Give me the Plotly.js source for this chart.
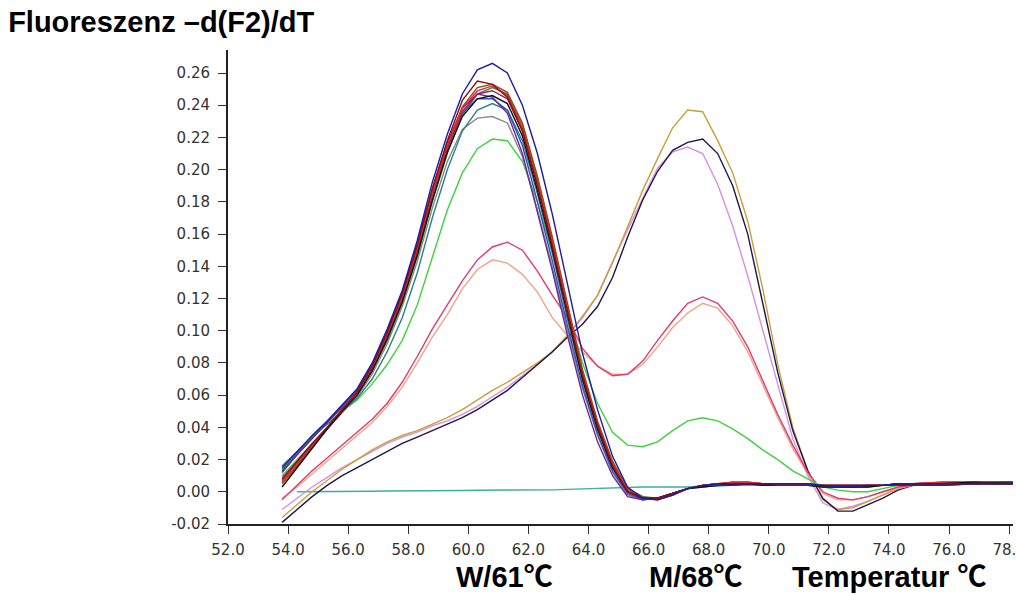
<!DOCTYPE html>
<html>
<head>
<meta charset="utf-8">
<script src="https://cdn.plot.ly/plotly-3.0.1.min.js"></script>
<style>
html,body{margin:0;padding:0;background:#fff;}
#chart{width:1016px;height:594px;}
</style>
</head>
<body>
<div id="chart"></div>
<script>
// Temperature grid (°C)
const temps = [53.8,54.3,54.8,55.3,55.8,56.3,56.8,57.3,57.8,58.3,58.8,59.3,59.8,60.3,60.8,61.3,61.8,62.3,62.8,63.3,63.8,64.3,64.8,65.3,65.8,66.3,66.8,67.3,
               67.8,68.3,68.8,69.3,69.8,70.3,70.8,71.3,71.8,72.3,72.8,73.3,73.8,74.3,74.8,75.8,76.8,77.8,78.3];

// Wild-type samples (peak ~61 °C)
const wtNavy    = [0.015,0.025,0.035,0.044,0.054,0.064,0.080,0.101,0.125,0.156,0.192,0.222,0.247,0.262,0.266,0.260,0.240,0.210,0.172,0.128,0.086,0.051,0.022,0.003,-0.004,-0.005,-0.002,0.002,
                   0.004,0.005,0.005,0.005,0.005,0.005,0.005,0.005,0.004,0.003,0.003,0.004,0.004,0.005,0.005,0.005,0.005,0.005,0.005];
const wtDarkRed = [0.008,0.019,0.030,0.040,0.051,0.062,0.078,0.099,0.123,0.153,0.188,0.218,0.243,0.255,0.253,0.245,0.224,0.190,0.152,0.111,0.072,0.041,0.016,0.000,-0.004,-0.004,-0.001,0.002,
                   0.004,0.004,0.004,0.005,0.005,0.004,0.004,0.004,0.004,0.004,0.004,0.004,0.004,0.004,0.004,0.004,0.005,0.005,0.005];
const wtBlack   = [0.003,0.015,0.027,0.039,0.050,0.060,0.075,0.095,0.118,0.147,0.181,0.211,0.233,0.244,0.246,0.241,0.221,0.187,0.150,0.109,0.070,0.039,0.015,0.000,-0.004,-0.004,-0.001,0.002,
                   0.003,0.004,0.005,0.005,0.004,0.004,0.004,0.004,0.003,0.003,0.003,0.003,0.004,0.005,0.005,0.005,0.006,0.006,0.006];
const wtRed     = [0.006,0.017,0.028,0.039,0.050,0.061,0.077,0.097,0.121,0.150,0.185,0.215,0.238,0.249,0.252,0.246,0.226,0.192,0.155,0.113,0.073,0.042,0.017,0.001,-0.004,-0.005,-0.002,0.002,
                   0.004,0.005,0.006,0.006,0.005,0.005,0.005,0.004,0.004,0.004,0.004,0.004,0.004,0.004,0.005,0.006,0.006,0.005,0.005];
const wtPurple  = [0.012,0.023,0.033,0.043,0.053,0.063,0.079,0.100,0.124,0.154,0.188,0.217,0.238,0.247,0.245,0.235,0.210,0.174,0.137,0.097,0.060,0.031,0.010,-0.003,-0.005,-0.004,-0.001,0.002,
                   0.004,0.005,0.005,0.005,0.005,0.005,0.005,0.005,0.004,0.003,0.003,0.004,0.004,0.005,0.005,0.005,0.005,0.005,0.005];
const wtGreen   = [0.014,0.024,0.034,0.043,0.052,0.061,0.075,0.094,0.117,0.146,0.180,0.210,0.234,0.247,0.251,0.247,0.228,0.194,0.156,0.114,0.074,0.043,0.018,0.002,-0.003,-0.004,-0.001,0.002,
                   0.004,0.004,0.004,0.005,0.005,0.004,0.004,0.004,0.004,0.004,0.004,0.004,0.004,0.004,0.004,0.004,0.005,0.005,0.005];
const wtTeal    = [0.016,0.025,0.034,0.042,0.050,0.058,0.070,0.087,0.108,0.136,0.170,0.200,0.224,0.237,0.241,0.237,0.218,0.185,0.148,0.107,0.069,0.039,0.015,0.000,-0.004,-0.004,-0.001,0.002,
                   0.003,0.004,0.005,0.005,0.004,0.004,0.004,0.004,0.003,0.003,0.003,0.003,0.004,0.005,0.005,0.005,0.006,0.006,0.006];
const wtGray    = [0.009,0.019,0.029,0.039,0.049,0.059,0.073,0.092,0.115,0.143,0.176,0.205,0.225,0.232,0.233,0.229,0.208,0.175,0.139,0.100,0.064,0.035,0.012,-0.002,-0.005,-0.004,-0.001,0.002,
                   0.004,0.005,0.006,0.006,0.005,0.005,0.005,0.004,0.004,0.004,0.004,0.004,0.004,0.004,0.005,0.006,0.006,0.005,0.005];
const wtBrown   = [0.005,0.016,0.028,0.039,0.050,0.061,0.077,0.098,0.121,0.151,0.186,0.215,0.239,0.251,0.253,0.248,0.229,0.196,0.158,0.116,0.076,0.044,0.019,0.002,-0.003,-0.005,-0.002,0.002,
                   0.004,0.005,0.005,0.005,0.005,0.005,0.005,0.005,0.004,0.003,0.003,0.004,0.004,0.005,0.005,0.005,0.005,0.005,0.005];
const wtBlue    = [0.013,0.023,0.033,0.043,0.053,0.063,0.078,0.099,0.122,0.152,0.186,0.214,0.235,0.244,0.244,0.237,0.215,0.180,0.143,0.103,0.066,0.036,0.013,-0.001,-0.005,-0.004,-0.001,0.002,
                   0.004,0.004,0.004,0.005,0.005,0.004,0.004,0.004,0.004,0.004,0.004,0.004,0.004,0.004,0.004,0.004,0.005,0.005,0.005];
const wtMagenta = [0.007,0.018,0.029,0.040,0.051,0.061,0.076,0.096,0.120,0.149,0.184,0.213,0.236,0.247,0.249,0.244,0.224,0.190,0.153,0.112,0.072,0.041,0.016,0.000,-0.004,-0.004,-0.001,0.002,
                   0.004,0.005,0.006,0.006,0.005,0.005,0.005,0.004,0.004,0.004,0.004,0.004,0.004,0.004,0.005,0.006,0.006,0.005,0.005];

// Mixed / heterozygous samples
const hetGreen   = [0.010,0.020,0.030,0.040,0.050,0.057,0.067,0.079,0.094,0.116,0.145,0.175,0.198,0.213,0.219,0.218,0.205,0.180,0.148,0.112,0.080,0.055,0.037,0.029,0.028,0.031,0.038,0.044,
                    0.046,0.044,0.039,0.033,0.026,0.020,0.013,0.008,0.003,0.001,0.000,0.000,0.002,0.004,0.005,0.005,0.005,0.005,0.005];
const hetCrimson = [-0.005,0.004,0.013,0.021,0.029,0.037,0.045,0.055,0.068,0.084,0.101,0.116,0.131,0.144,0.152,0.155,0.150,0.137,0.122,0.108,0.089,0.078,0.072,0.073,0.081,0.094,0.106,0.117,
                    0.121,0.117,0.106,0.090,0.069,0.048,0.029,0.012,0.000,-0.004,-0.005,-0.003,0.000,0.003,0.004,0.005,0.005,0.005,0.005];
const hetSalmon  = [-0.004,0.003,0.011,0.019,0.027,0.035,0.043,0.053,0.065,0.080,0.096,0.110,0.126,0.138,0.144,0.142,0.135,0.124,0.108,0.097,0.087,0.078,0.073,0.073,0.079,0.090,0.102,0.111,
                    0.117,0.114,0.103,0.087,0.066,0.046,0.027,0.011,-0.001,-0.005,-0.005,-0.003,0.000,0.002,0.004,0.005,0.005,0.005,0.005];

// Mutant samples (peak ~68 °C)
const mutGold   = [-0.016,-0.008,0.000,0.007,0.014,0.020,0.026,0.031,0.035,0.038,0.042,0.046,0.051,0.057,0.063,0.068,0.074,0.080,0.087,0.097,0.109,0.122,0.142,0.165,0.187,0.207,0.226,0.237,
                   0.236,0.218,0.198,0.168,0.126,0.079,0.040,0.013,-0.005,-0.011,-0.010,-0.006,-0.002,0.002,0.004,0.005,0.005,0.006,0.006];
const mutNavy   = [-0.019,-0.011,-0.003,0.004,0.010,0.015,0.020,0.025,0.030,0.034,0.038,0.042,0.046,0.051,0.057,0.063,0.071,0.079,0.087,0.096,0.104,0.115,0.133,0.158,0.181,0.199,0.212,0.217,
                   0.219,0.210,0.190,0.160,0.118,0.074,0.038,0.013,-0.004,-0.012,-0.012,-0.008,-0.004,0.001,0.004,0.005,0.005,0.005,0.005];
const mutViolet = [-0.011,-0.004,0.003,0.009,0.015,0.020,0.025,0.030,0.034,0.037,0.041,0.044,0.048,0.053,0.059,0.065,0.072,0.079,0.087,0.097,0.108,0.122,0.143,0.163,0.182,0.201,0.211,0.214,
                   0.210,0.191,0.165,0.134,0.100,0.066,0.033,0.010,-0.007,-0.011,-0.009,-0.006,-0.002,0.002,0.004,0.005,0.005,0.005,0.005];

// No-template control
const ntc = [null,0.000,0.000,0.000,0.000,0.000,0.0003,0.0005,0.0005,0.0005,0.0005,0.0005,0.0008,0.001,0.001,0.001,0.001,0.001,0.0012,0.0015,0.0018,0.002,0.0025,0.003,0.003,0.003,0.003,0.003,
             0.0035,0.0035,0.004,0.004,0.004,0.004,0.004,0.004,0.004,0.004,0.004,0.004,0.004,0.0045,0.0045,0.0045,0.005,0.005,0.005];

// Axis ticks
const xTickVals = [52,54,56,58,60,62,64,66,68,70,72,74,76,78];
const xTickText = ['52.0','54.0','56.0','58.0','60.0','62.0','64.0','66.0','68.0','70.0','72.0','74.0','76.0','78.0'];
const yTickVals = [-0.02,0,0.02,0.04,0.06,0.08,0.10,0.12,0.14,0.16,0.18,0.20,0.22,0.24,0.26];
const yTickText = ['-0.02','0.00','0.02','0.04','0.06','0.08','0.10','0.12','0.14','0.16','0.18','0.20','0.22','0.24','0.26'];

const series = [
  [ntc,'#3bb0a0'],
  [mutViolet,'#d98ee0'],
  [mutGold,'#c9a035'],
  [mutNavy,'#1c1850'],
  [hetSalmon,'#f0a487'],
  [hetCrimson,'#e03a74'],
  [hetGreen,'#3fd23f'],
  [wtGray,'#8a8a8a'],
  [wtTeal,'#2f7f86'],
  [wtGreen,'#2f8f3f'],
  [wtBlue,'#3050c8'],
  [wtPurple,'#6a2a90'],
  [wtMagenta,'#a0206a'],
  [wtBrown,'#9a4a20'],
  [wtRed,'#e02828'],
  [wtBlack,'#111111'],
  [wtDarkRed,'#8b1010'],
  [wtNavy,'#1c1ca8']
];

const traces = series.map(([ys,c]) => ({
  x: temps, y: ys, type: 'scatter', mode: 'lines',
  line: {color: c, width: 1.4}, connectgaps: false, hoverinfo: 'skip'
}));

const tickFont = {family: 'DejaVu Sans, sans-serif', size: 15, color: '#333'};
const boldFont = {family: 'Liberation Sans, Noto Sans CJK SC, Arial, sans-serif', size: 29, color: '#000', weight: 700};

const layout = {
  width: 1016, height: 594,
  margin: {l: 228, r: 3, t: 50, b: 70, pad: 0},
  paper_bgcolor: '#fff', plot_bgcolor: '#fff',
  showlegend: false,
  title: {
    text: 'Fluoreszenz –d(F2)/dT',
    font: {family: 'Liberation Sans, Arial, sans-serif', size: 29, color: '#000', weight: 700},
    xref: 'container', yref: 'container', x: 0.008, xanchor: 'left', y: 0.963, yanchor: 'middle'
  },
  xaxis: {
    range: [52, 78.13], showgrid: false, zeroline: false,
    showline: true, linecolor: '#222', linewidth: 2,
    ticks: 'outside', ticklen: 8, tickcolor: '#333', tickwidth: 1,
    tickmode: 'array', tickvals: xTickVals, ticktext: xTickText,
    tickfont: tickFont, ticklabelstandoff: 3, ticklabeloverflow: 'allow'
  },
  yaxis: {
    range: [-0.02, 0.2743], showgrid: false, zeroline: false,
    showline: true, linecolor: '#222', linewidth: 2,
    ticks: 'outside', ticklen: 8, tickcolor: '#333', tickwidth: 1,
    tickmode: 'array', tickvals: yTickVals, ticktext: yTickText,
    tickfont: tickFont, ticklabelstandoff: 5, ticklabeloverflow: 'allow'
  },
  annotations: [
    {text: 'W/61℃', xref: 'paper', yref: 'paper', x: 0.352, y: -0.111, xanchor: 'center', yanchor: 'middle', showarrow: false, font: boldFont},
    {text: 'M/68℃', xref: 'paper', yref: 'paper', x: 0.596, y: -0.111, xanchor: 'center', yanchor: 'middle', showarrow: false, font: boldFont},
    {text: 'Temperatur ℃', xref: 'paper', yref: 'paper', x: 0.842, y: -0.111, xanchor: 'center', yanchor: 'middle', showarrow: false, font: boldFont}
  ]
};

Plotly.newPlot('chart', traces, layout, {displayModeBar: false, staticPlot: true});
</script>
</body>
</html>
